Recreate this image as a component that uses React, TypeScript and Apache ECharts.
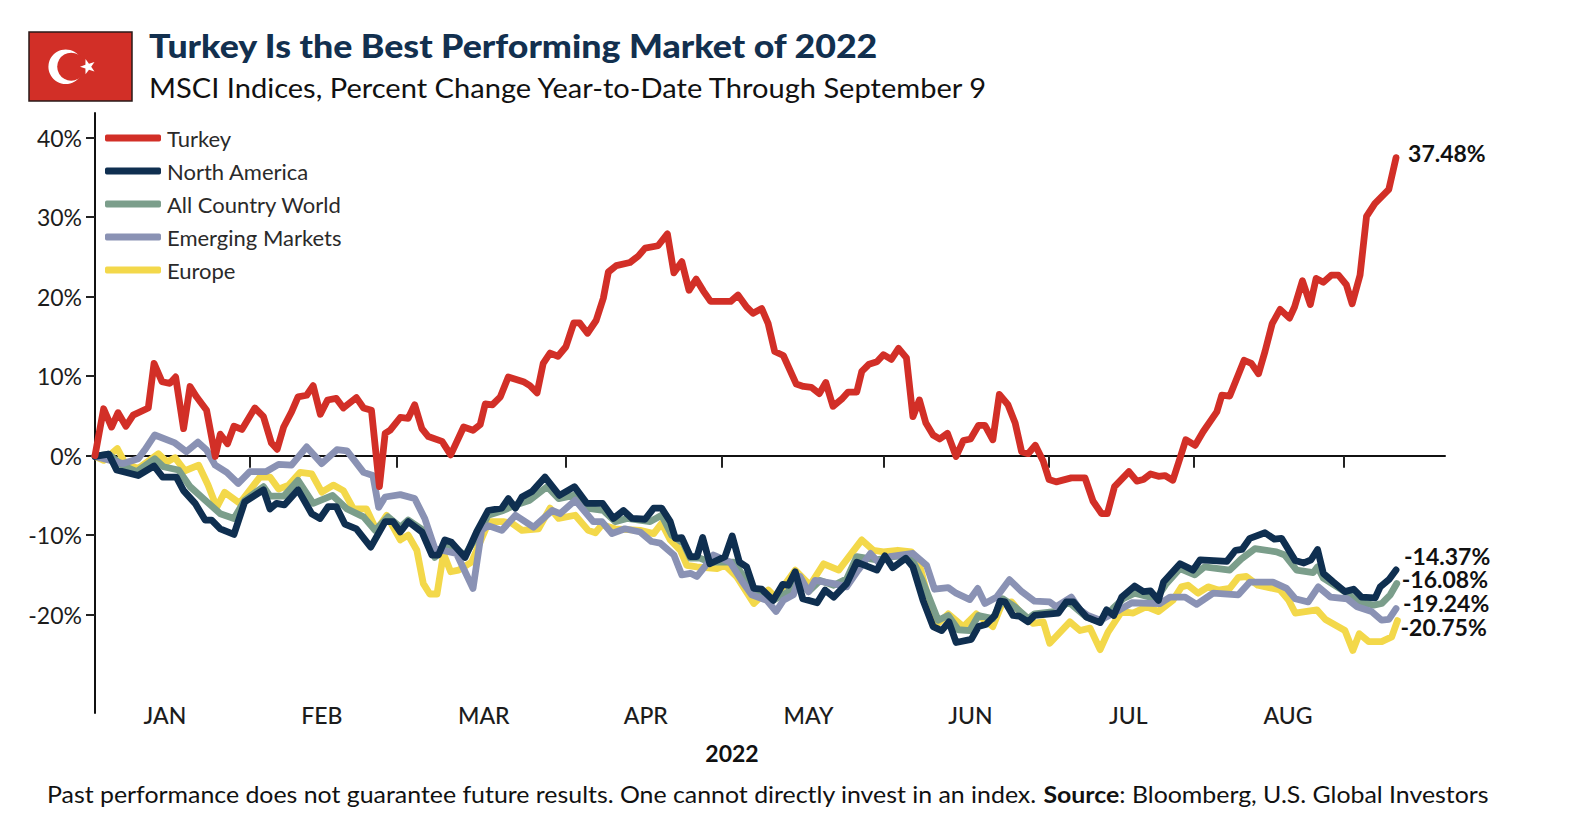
import React, { useEffect, useRef } from "react";
import * as echarts from "echarts";

const titleText = "Turkey Is the Best Performing Market of 2022";
const subtitleText = "MSCI Indices, Percent Change Year-to-Date Through September 9";
const axisYear = "2022";
const footerA = "Past performance does not guarantee future results. One cannot directly invest in an index. ";
const footerB = "Source";
const footerC = ": Bloomberg, U.S. Global Investors";

const monthLabels = ["JAN", "FEB", "MAR", "APR", "MAY", "JUN", "JUL", "AUG"];
const monthCentres = [9.7, 31.5, 54, 76.5, 99.1, 121.6, 143.5, 165.7];
const monthEnds = [21.5, 41.9, 65.4, 87, 109.5, 132.5, 152.6, 173.5];
const yTicks = [-20, -10, 0, 10, 20, 30, 40];

// [trading day since Jan 1, percent change YTD]
const turkey = [[0,0],[1.2,5.9],[2.3,3.6],[3.2,5.4],[4.3,3.7],[5.3,5.1],[7.4,6],[8.2,11.6],[9.3,9.3],[10.4,9.1],[11.2,9.9],[12.3,3.4],[13.2,8.7],[14.1,7.4],[15.5,5.7],[16.7,-0.1],[17.4,2.7],[18.4,1.5],[19.3,3.7],[20.4,3.3],[22.2,6],[23.4,4.9],[24.5,1.6],[25.3,0.8],[26.2,3.6],[27.3,5.5],[28.2,7.4],[29.4,7.6],[30.3,8.8],[31.3,5.2],[32.3,7],[33.5,7.2],[34.5,6],[36.3,7.3],[37.3,6],[38.4,5.7],[39.5,-3.9],[40.3,2.8],[41,3.2],[42.4,4.8],[43.5,4.7],[44.4,6.4],[45.4,3.4],[46.3,2.4],[48.2,1.8],[49.4,0.1],[51.2,3.6],[52.5,3.2],[53.5,3.9],[54.2,6.5],[55.2,6.4],[56.3,7.4],[57.4,9.9],[59.5,9.3],[60.4,8.8],[61.4,7.9],[62.25,11.6],[63.2,12.9],[64.3,12.5],[65.4,13.7],[66.5,16.7],[67.3,16.7],[68.4,15.4],[69.6,17],[70.6,19.8],[71.3,23.1],[72.4,23.9],[74.3,24.3],[75.45,25.1],[76.4,26.1],[78.2,26.4],[79.5,27.9],[80.4,23],[81.5,24.4],[82.5,20.8],[83.5,22.2],[84.5,20.7],[85.5,19.4],[88.3,19.4],[89.3,20.2],[90.5,18.7],[91.4,17.9],[92.6,18.5],[93.5,16.6],[94.4,13.1],[95.6,12.6],[97.4,9],[98.4,8.7],[99.5,8.6],[100.6,7.8],[101.5,9.2],[102.5,6.2],[103.7,7.1],[104.6,8],[105.8,8],[106.5,10.6],[107.5,11.5],[108.6,11.8],[109.5,12.7],[110.6,12.1],[111.6,13.5],[112.7,12.3],[113.6,4.9],[114.5,7],[115.4,4.1],[116.4,2.6],[117.3,2.1],[118.4,2.8],[119.6,-0.1],[120.6,1.9],[121.6,2.1],[122.7,3.8],[123.6,3.8],[124.7,2],[125.6,7.7],[126.8,6.4],[127.8,4.1],[128.7,0.5],[129.6,0.25],[130.6,1.3],[131.7,-0.7],[132.5,-3],[133.5,-3.3],[135.6,-2.8],[137.5,-2.8],[138.6,-5.7],[139.8,-7.3],[140.6,-7.3],[141.6,-3.9],[143.6,-2],[144.7,-3.2],[145.6,-3],[146.6,-2.3],[147.7,-2.6],[148.6,-2.5],[149.7,-3.1],[150.7,-0.3],[151.5,2],[152.8,1.3],[153.9,3],[155.8,5.5],[156.5,7.6],[157.6,7.5],[159.6,12],[160.6,11.6],[161.6,10.3],[162.5,13.1],[163.5,16.6],[164.6,18.4],[165.9,17.3],[166.6,18.7],[167.7,22],[168.8,19],[169.6,22.3],[170.6,21.8],[171.7,22.7],[172.7,22.7],[173.8,21.5],[174.6,19.1],[175.7,22.7],[176.6,30.1],[177.75,31.7],[179.7,33.5],[180.7,37.48]];

const northAmerica = [[0,-0.1],[1.9,0.2],[3,-1.8],[6,-2.5],[8.2,-1.3],[9.4,-2.7],[11.3,-2.7],[12.3,-4.4],[13.9,-6],[15.3,-8.1],[16.2,-8.1],[17.4,-9.2],[19.3,-9.9],[20.8,-5.8],[23.4,-4.3],[24.3,-6.7],[25.2,-6],[26.3,-6.2],[28.2,-4.3],[30.1,-7.3],[31.25,-7.9],[32.4,-6.4],[33.5,-6.4],[34.7,-8.6],[36.3,-9.2],[38.3,-11.5],[40.3,-8.3],[41.4,-8.3],[42.4,-9.6],[43.5,-8.3],[45.4,-9.6],[46.8,-12.5],[47.7,-12.5],[48.6,-10.6],[49.5,-10.9],[51.4,-12.8],[53,-9.6],[54.6,-6.9],[56.5,-6.6],[57.4,-5.4],[58.4,-6.6],[59.3,-5.2],[60.7,-4.5],[62.5,-2.7],[64.5,-5],[66.6,-3.9],[68.3,-6],[70.5,-6],[72,-7.9],[73.4,-6.9],[74.6,-7.9],[76.4,-8],[77.6,-6.6],[78.7,-6.6],[79.9,-8.3],[80.6,-10.4],[81.5,-10.3],[82.7,-12.7],[83.6,-12.7],[84.4,-10.3],[85.4,-13.6],[87.5,-12.7],[88.5,-10.1],[89.5,-13.4],[90.5,-14],[91.5,-16.7],[92.6,-16.8],[94.2,-18.2],[95.5,-16.2],[96.3,-16.3],[97.25,-14.6],[98.3,-18],[100.3,-18.5],[101.4,-16.9],[102.6,-17.8],[104.4,-16.1],[105.8,-13.4],[108.6,-14.4],[109.7,-12.6],[110.8,-14.1],[112.6,-12.9],[113.6,-14],[115,-18.2],[116.4,-21.5],[117.6,-22],[118.6,-20.9],[119.6,-23.5],[121.7,-23.1],[122.7,-21.5],[123.8,-21.2],[125,-20.1],[125.7,-18.3],[126.4,-18.4],[127.5,-20.1],[128.4,-20.2],[129.6,-20.9],[130.5,-20.1],[133.8,-19.8],[134.9,-18.4],[135.9,-18.4],[137.7,-20.3],[139.6,-21],[140.5,-19.4],[141.5,-20.1],[142.6,-17.8],[144.4,-16.4],[145.6,-17.1],[146.6,-17],[147.7,-18.2],[148.4,-15.9],[150.7,-13.6],[152.5,-14.4],[153.5,-13.1],[157.2,-13.3],[158.4,-11.9],[159.3,-11.8],[160.4,-10.4],[162.5,-9.7],[163.8,-10.5],[164.8,-10.4],[166.7,-13.2],[167.9,-13.5],[168.9,-13.1],[169.8,-11.8],[170.6,-14.8],[172,-15.9],[173.6,-17.1],[174.8,-16.8],[175.9,-17.8],[177.8,-17.9],[178.5,-16.5],[179.7,-15.6],[180.7,-14.37]];

const allCountryWorld = [[0,-0.1],[1.9,0.2],[3.7,-1.2],[5.8,-2],[8.3,-0.4],[9.5,-1.4],[11.6,-1.8],[13.2,-3.9],[15.3,-5.6],[17.4,-7.3],[19.3,-7.9],[20.8,-5.6],[23.4,-3.9],[24.3,-5.1],[26.2,-5.1],[28.2,-3.1],[30.3,-6],[33,-5],[35,-6.7],[37.3,-7.7],[38.9,-9.4],[40.7,-7.7],[42.4,-9],[43.5,-8.1],[45.6,-9.4],[47.2,-12.8],[48.8,-11],[51.4,-12.5],[53,-10.2],[54.6,-7.5],[56.7,-6.9],[58.4,-6.2],[60.4,-5.6],[62.8,-3.9],[64.4,-5.4],[66.5,-5],[68.3,-6.6],[70.6,-6.9],[72.25,-8.3],[73.9,-7.9],[77.1,-8.3],[78.7,-7.5],[80.1,-10],[81.7,-11],[82.7,-12.9],[84,-12.9],[85.4,-13.4],[88.7,-13.4],[90.5,-15.7],[91.5,-17.3],[94.2,-18.2],[96.3,-17.1],[97.25,-14.8],[99.1,-17.1],[100.7,-15.7],[102.6,-16.3],[104.4,-15.5],[105.8,-12.7],[108.6,-13.1],[110.9,-12.7],[113.2,-12.5],[114.8,-15.5],[116,-18.2],[117.1,-20.7],[118.5,-20.1],[119.9,-21.9],[121.5,-22],[122.7,-20.1],[124.7,-20.5],[126.1,-18],[127.75,-19],[129.6,-20.5],[130.5,-19.9],[133.5,-19.6],[135.2,-18.4],[137.7,-20.3],[139.6,-20.9],[141.4,-19.2],[142.8,-18],[144.4,-17.3],[147.4,-18],[148.8,-16.1],[150.7,-14.2],[152.75,-15],[154.1,-14],[157.6,-14.4],[159.2,-13],[161.1,-11.7],[164.1,-12.1],[165.25,-12.5],[166.9,-14.4],[169.2,-14.7],[169.8,-14],[170.6,-15.4],[173.9,-17.3],[175.3,-18.4],[177.6,-18.8],[178.7,-18.6],[179.9,-17.5],[180.8,-16.08]];

const emergingMarkets = [[0,-0.1],[3.9,-1],[6,-0.4],[6.9,0.7],[8.3,2.6],[11.1,1.6],[12.7,0.5],[14.3,1.7],[15.5,0.7],[16.7,-1.2],[18.3,-2.1],[19.9,-3.5],[21.5,-2],[23.8,-2],[25.5,-1.1],[27.3,-1.2],[29.4,1.1],[31.5,-1],[33.6,0.75],[35,0.6],[37.3,-2.1],[38.6,-2.5],[39.4,-6.5],[40.3,-5.2],[42.4,-4.9],[44.4,-5.4],[45.8,-7.9],[47.2,-11.7],[50.2,-12.3],[52.5,-16.7],[53.7,-9.4],[54.6,-8.8],[56.5,-9.4],[58.4,-7.5],[60.9,-9],[63.5,-6.9],[64.6,-7.3],[66.7,-5.6],[69.2,-8.3],[70.4,-8.3],[71.8,-9.8],[73.6,-9.2],[75.7,-9.6],[77.3,-10.8],[78.5,-11],[80.4,-12.5],[81.5,-15],[82.7,-14.8],[83.6,-15.2],[85,-13.6],[85.9,-12.5],[88.2,-13.4],[89.8,-15.7],[91.2,-17.5],[93.3,-18.2],[94.6,-19.6],[95.6,-18.2],[97,-17.5],[97.9,-15.2],[99.1,-17.1],[100,-15.7],[102.6,-16.1],[104.4,-16.5],[106,-14.4],[107.7,-12.3],[108.8,-13.4],[110.4,-12.7],[113.6,-12.3],[115.5,-13.8],[116.6,-16.8],[118.5,-16.6],[119.6,-17.3],[121.5,-18.1],[122.6,-16.7],[123.6,-18.6],[125.2,-17.8],[127,-15.6],[128.7,-17.1],[130.5,-18.3],[132.6,-18.4],[133.5,-19],[135.6,-17.8],[136.8,-19.4],[137.9,-20.1],[139.6,-20.7],[142.3,-19.4],[144,-18.5],[147.9,-18.6],[149.3,-17.8],[151.4,-17.8],[153,-18.7],[155.3,-17.3],[158.8,-17.5],[160.4,-15.9],[163.6,-15.9],[165.5,-16.7],[166.7,-18],[168.5,-18.4],[169.9,-16.5],[171.6,-17.8],[173.9,-18],[175.3,-19],[177.3,-19.6],[178.7,-20.7],[179.7,-20.6],[180.7,-19.24]];

const europe = [[0,-0.1],[1.2,-0.6],[3.1,0.9],[4.2,-1],[6,-1.6],[8.8,0.25],[10,-0.8],[11.1,-0.25],[12.5,-1.9],[14.4,-1.2],[15.7,-3.7],[16.9,-6.5],[18,-4.6],[20.1,-6],[22.9,-2.7],[24.3,-2.7],[25.5,-4.2],[26.9,-3.7],[28.5,-2.1],[30.1,-2.3],[31.5,-4.6],[33.1,-3.7],[34.5,-4.4],[35.9,-6.7],[37.7,-6.7],[39.1,-9.4],[40.5,-7.5],[42.4,-10.6],[43.5,-10],[44.7,-11.9],[45.6,-16.1],[46.5,-17.4],[47.5,-17.4],[48.4,-12.3],[49.4,-14.6],[50.5,-14.4],[52.3,-13.4],[54.7,-8.3],[56.7,-8.3],[57.9,-8.5],[59.3,-9.4],[61.6,-9.2],[63.2,-6.6],[64.4,-7.9],[66.7,-7.5],[68.5,-9.4],[69.5,-9.7],[70.4,-8.7],[72.25,-9.2],[75.7,-9.4],[77.6,-9.8],[78.7,-8.5],[79.9,-10.6],[81.3,-11.9],[82.2,-13.8],[83.6,-14],[86.4,-14.2],[87.5,-13.8],[89.1,-15.2],[91.5,-18.6],[93.5,-16.9],[94.5,-17.8],[97.25,-14.4],[99.3,-16.3],[101.2,-13.6],[103.3,-14.4],[106.5,-10.6],[108.1,-11.9],[109.5,-12.1],[111.5,-11.9],[113.4,-12.1],[114.6,-14],[115.9,-18.6],[117.1,-21.1],[118.5,-19.9],[120.6,-21.5],[122.4,-19.9],[124.7,-21.5],[126,-18.6],[127.3,-18.4],[128.4,-19.6],[130.3,-21.1],[131.7,-20.9],[132.6,-23.6],[135.4,-20.9],[136.8,-22],[138.2,-21.7],[139.6,-24.4],[140.7,-22.2],[142.6,-19.6],[144.2,-19.8],[146,-19],[147.7,-19.6],[149.7,-18.2],[150.9,-16.5],[151.8,-16.3],[153.2,-17.3],[154.6,-16.5],[156,-16.9],[157.6,-16.7],[158.8,-15.3],[159.9,-15.2],[161.5,-16.3],[164.6,-16.9],[165.8,-18.2],[166.7,-19.8],[169.7,-19.4],[170.9,-20.6],[173.6,-22],[174.7,-24.5],[175.6,-22.4],[176.9,-23.4],[178.7,-23.4],[180.1,-22.8],[180.9,-20.75]];

const C = { turkey: "#d22f27", na: "#0f2f50", acw: "#7b9e8b", em: "#8a92b4", eu: "#f3d84a", ink: "#1c1c1c", navy: "#12304f" };
const FONT = "Lato";
const LABEL_SIZE = 23;

function makeLine(name: string, data: number[][], color: string, z: number, offset: number[], text: string) {
  return {
    name,
    type: "line",
    data,
    z,
    symbol: "none",
    smooth: false,
    color,
    lineStyle: { color, width: 6.8, cap: "round", join: "round" },
    endLabel: {
      show: true,
      formatter: text,
      distance: 0,
      offset,
      color: "#111",
      fontFamily: FONT,
      fontWeight: "bold",
      fontSize: 23,
      lineHeight: 21,
    },
  };
}

function starPoints(cx: number, cy: number, r: number, inner: number, rotation: number) {
  const pts: number[][] = [];
  for (let i = 0; i < 10; i++) {
    const a = rotation + (i * Math.PI) / 5;
    const rad = i % 2 === 0 ? r : inner;
    pts.push([cx + rad * Math.cos(a), cy + rad * Math.sin(a)]);
  }
  return pts;
}

export default function App() {
  const ref = useRef<HTMLDivElement>(null);
  useEffect(() => {
    const chart = echarts.init(ref.current!, undefined, { renderer: "svg" });
    chart.setOption({
      animation: false,
      backgroundColor: "#fff",
      textStyle: { fontFamily: FONT },
      grid: { left: 95, top: 113, width: 1350, height: 600, containLabel: false, outerBoundsMode: "none" },
      xAxis: {
        type: "value",
        min: 0,
        max: 187.5,
        splitLine: { show: false },
        axisLine: { show: true, onZero: true, lineStyle: { color: "#111", width: 2 } },
        axisTick: { show: true, inside: false, length: 12, lineStyle: { color: "#222", width: 2 }, customValues: monthEnds },
        axisLabel: {
          show: true,
          customValues: monthCentres,
          margin: -10,
          color: C.ink,
          fontFamily: FONT,
          fontSize: LABEL_SIZE,
          fontWeight: 500,
          formatter: (v: number) => monthLabels[monthCentres.indexOf(v)] ?? "",
        },
      },
      yAxis: {
        type: "value",
        min: -32.37,
        max: 43.1,
        splitLine: { show: false },
        axisLine: { show: true, onZero: false, lineStyle: { color: "#111", width: 2 } },
        axisTick: { show: true, length: 9, lineStyle: { color: "#222", width: 2 }, customValues: yTicks },
        axisLabel: { customValues: yTicks, formatter: "{value}%", margin: 13, color: C.ink, fontFamily: FONT, fontSize: LABEL_SIZE },
      },
      legend: {
        show: true,
        orient: "vertical",
        left: 100,
        top: 121,
        icon: "roundRect",
        itemWidth: 56,
        itemHeight: 7,
        itemGap: 9,
        data: ["Turkey", "North America", "All Country World", "Emerging Markets", "Europe"],
        textStyle: { color: "#2a2a2a", fontFamily: FONT, fontSize: 22, padding: [0, 0, 0, 1], lineHeight: 24 },
      },
      series: [
        makeLine("Europe", europe, C.eu, 2, [3, 6], "-20.75%"),
        makeLine("All Country World", allCountryWorld, C.acw, 3, [5, -4], "-16.08%"),
        makeLine("Emerging Markets", emergingMarkets, C.em, 4, [7, -6], "-19.24%"),
        makeLine("North America", northAmerica, C.na, 5, [8, -14], "-14.37%"),
        makeLine("Turkey", turkey, C.turkey, 6, [12, -5], "37.48%"),
      ],
      graphic: [
        { type: "rect", shape: { x: 29, y: 32, width: 103, height: 69 }, style: { fill: "#d22f27", stroke: "#2a1a18", lineWidth: 1.5 } },
        { type: "circle", shape: { cx: 65.7, cy: 66.7, r: 17.3 }, style: { fill: "#fff" } },
        { type: "circle", shape: { cx: 71.2, cy: 66.7, r: 14 }, style: { fill: "#d22f27" } },
        { type: "polygon", shape: { points: starPoints(88, 66.7, 8, 3.2, Math.PI) }, style: { fill: "#fff" } },
        { type: "text", x: 149, y: 46, scaleX: 1.116, style: { text: titleText, font: `900 32px ${FONT}`, fill: C.navy, textVerticalAlign: "middle" } },
        { type: "text", x: 149, y: 87, scaleX: 1.077, style: { text: subtitleText, font: `27px ${FONT}`, fill: "#111", textVerticalAlign: "middle" } },
        { type: "text", x: 732, y: 753, style: { text: axisYear, font: `bold 23px ${FONT}`, fill: "#111", textAlign: "center", textVerticalAlign: "middle" } },
        {
          type: "text",
          x: 47,
          y: 794,
          scaleX: 1.082,
          style: {
            text: `{n|${footerA}}{b|${footerB}}{n|${footerC}}`,
            textVerticalAlign: "middle",
            rich: {
              n: { font: `23px ${FONT}`, fill: "#111" },
              b: { font: `bold 23px ${FONT}`, fill: "#111" },
            },
          },
        },
      ],
    });
    return () => chart.dispose();
  }, []);
  return <div ref={ref} style={{ position: "fixed", left: 0, top: 0, width: 1594, height: 826, background: "#fff" }} />;
}
